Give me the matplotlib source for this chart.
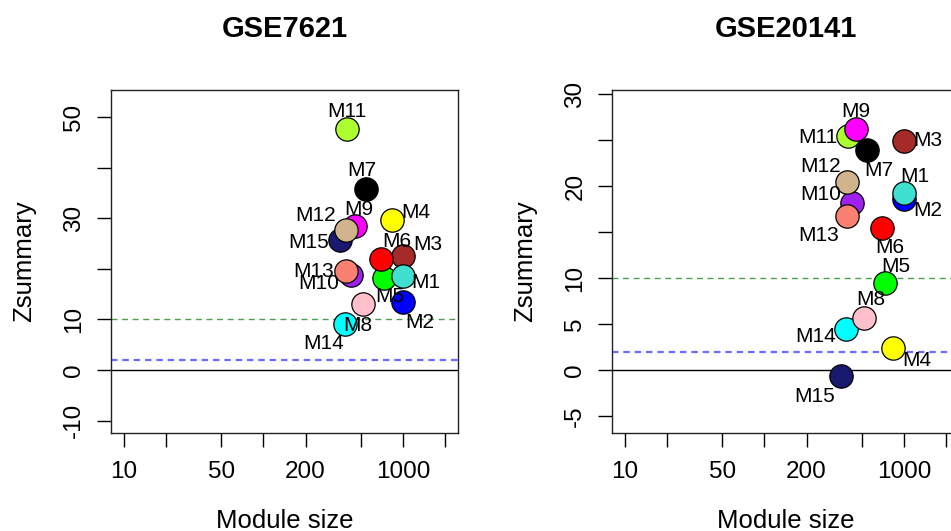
import numpy as np
import matplotlib.pyplot as plt
from matplotlib.ticker import NullLocator

plt.rcParams['font.family'] = ['Liberation Sans', 'DejaVu Sans']

# modules (WGCNA colour order) and sizes from the reference set
modules = ['M1', 'M2', 'M3', 'M4', 'M5', 'M6', 'M7', 'M8', 'M9', 'M10',
           'M11', 'M12', 'M13', 'M14', 'M15']
mod_colors = ['turquoise', 'blue', 'brown', 'yellow', 'green', 'red', 'black',
              'pink', 'magenta', 'purple', 'greenyellow', 'tan', 'salmon',
              'cyan', 'midnightblue']
module_size = [1000, 1000, 1000, 835, 731, 695, 545, 518, 455, 424,
               394, 393, 390, 386, 354]

# Zsummary per test set
zsum_gse7621 = [18.6, 13.4, 22.6, 29.7, 18.3, 22.0, 35.9, 13.0, 28.4, 18.8,
                47.7, 27.7, 19.6, 9.2, 25.7]
zsum_gse20141 = [19.2, 18.6, 24.9, 2.4, 9.4, 15.4, 23.9, 5.7, 26.2, 18.2,
                 25.4, 20.4, 16.7, 4.4, -0.7]

# R colour definitions (matplotlib's differ for some names)
r_hex = {'turquoise': '#40E0D0', 'blue': '#0000FF', 'brown': '#A52A2A',
         'yellow': '#FFFF00', 'green': '#00FF00', 'red': '#FF0000',
         'black': '#000000', 'pink': '#FFC0CB', 'magenta': '#FF00FF',
         'purple': '#A020F0', 'greenyellow': '#ADFF2F', 'tan': '#D2B48C',
         'salmon': '#FA8072', 'cyan': '#00FFFF', 'midnightblue': '#191970'}

# label offsets from point, in pixels (right, down)
offs_left = [(23, 6), (17, 20), (25, -11), (24, -7), (6, 19), (16, -17),
             (-4, -18), (-5, 21), (3, -17), (-32, 9), (0, -17), (-31, -15),
             (-32, 1), (-22, 20), (-32, 2)]
offs_right = [(11, -17), (24, 12), (24, 0), (24, 13), (11, -17), (8, 19),
              (12, 20), (7, -18), (-1, -17), (-31, -8), (-30, 1), (-27, -16),
              (-28, 19), (-31, 7), (-27, 20)]

W, H = 951, 531
fig = plt.figure(figsize=(W / 100, H / 100), dpi=100)


def box(x0, y0, x1, y1):
    return [x0 / W, (H - y1) / H, (x1 - x0) / W, (y1 - y0) / H]


panels = [
    ('GSE7621', zsum_gse7621, offs_left, box(111, 90, 458, 433), (-12.46, 55.4),
     [-10, 0, 10, 20, 30, 40, 50], ['-10', '0', '10', '', '30', '', '50']),
    ('GSE20141', zsum_gse20141, offs_right, box(612, 90, 959, 433), (-6.85, 30.43),
     [-5, 0, 5, 10, 15, 20, 25, 30], ['-5', '0', '5', '10', '', '20', '', '30']),
]

order = np.argsort(mod_colors)  # R draws in alphabetical colour order

for title, z, offs, pos, ylim, yt, ytl in panels:
    ax = fig.add_axes(pos)
    ax.set_xscale('log')
    ax.set_xlim(8.09, 2472)
    ax.set_ylim(*ylim)

    ax.axhline(0, color='black', lw=1, zorder=1)
    ax.axhline(2, color='#6b6bff', lw=1.6, dashes=(2.9, 2.2), zorder=1)
    ax.axhline(10, color='#4f9f4f', lw=1.0, dashes=(4.3, 3.3), zorder=1)

    for i in order:
        ax.plot(module_size[i], z[i], 'o', ms=16.8, mfc=r_hex[mod_colors[i]],
                mec='black', mew=0.9, zorder=3)
    for i in range(len(modules)):
        dx, dy = offs[i]
        ax.annotate(modules[i], (module_size[i], z[i]),
                    xytext=(dx * 0.72, -dy * 0.72), textcoords='offset points',
                    ha='center', va='center', fontsize=15, zorder=4)

    ax.set_xticks([10, 20, 50, 100, 200, 500, 1000, 2000])
    ax.set_xticklabels(['10', '', '50', '', '200', '', '1000', ''])
    ax.xaxis.set_minor_locator(NullLocator())
    ax.set_yticks(yt)
    ax.set_yticklabels(ytl, rotation=90, va='center')
    ax.tick_params(length=10, width=1, labelsize=17.5, direction='out')
    ax.tick_params(axis='x', pad=10)
    ax.tick_params(axis='y', pad=8.5)
    for s in ax.spines.values():
        s.set_linewidth(1.0)
        s.set_color('#222222')

    ax.set_xlabel('Module size', fontsize=18.5, labelpad=19)
    ax.set_ylabel('Zsummary', fontsize=18.5, labelpad=19.5)
    ax.set_title(title, fontsize=21, fontweight='bold', pad=38)

fig.savefig('out.png', dpi=100)
